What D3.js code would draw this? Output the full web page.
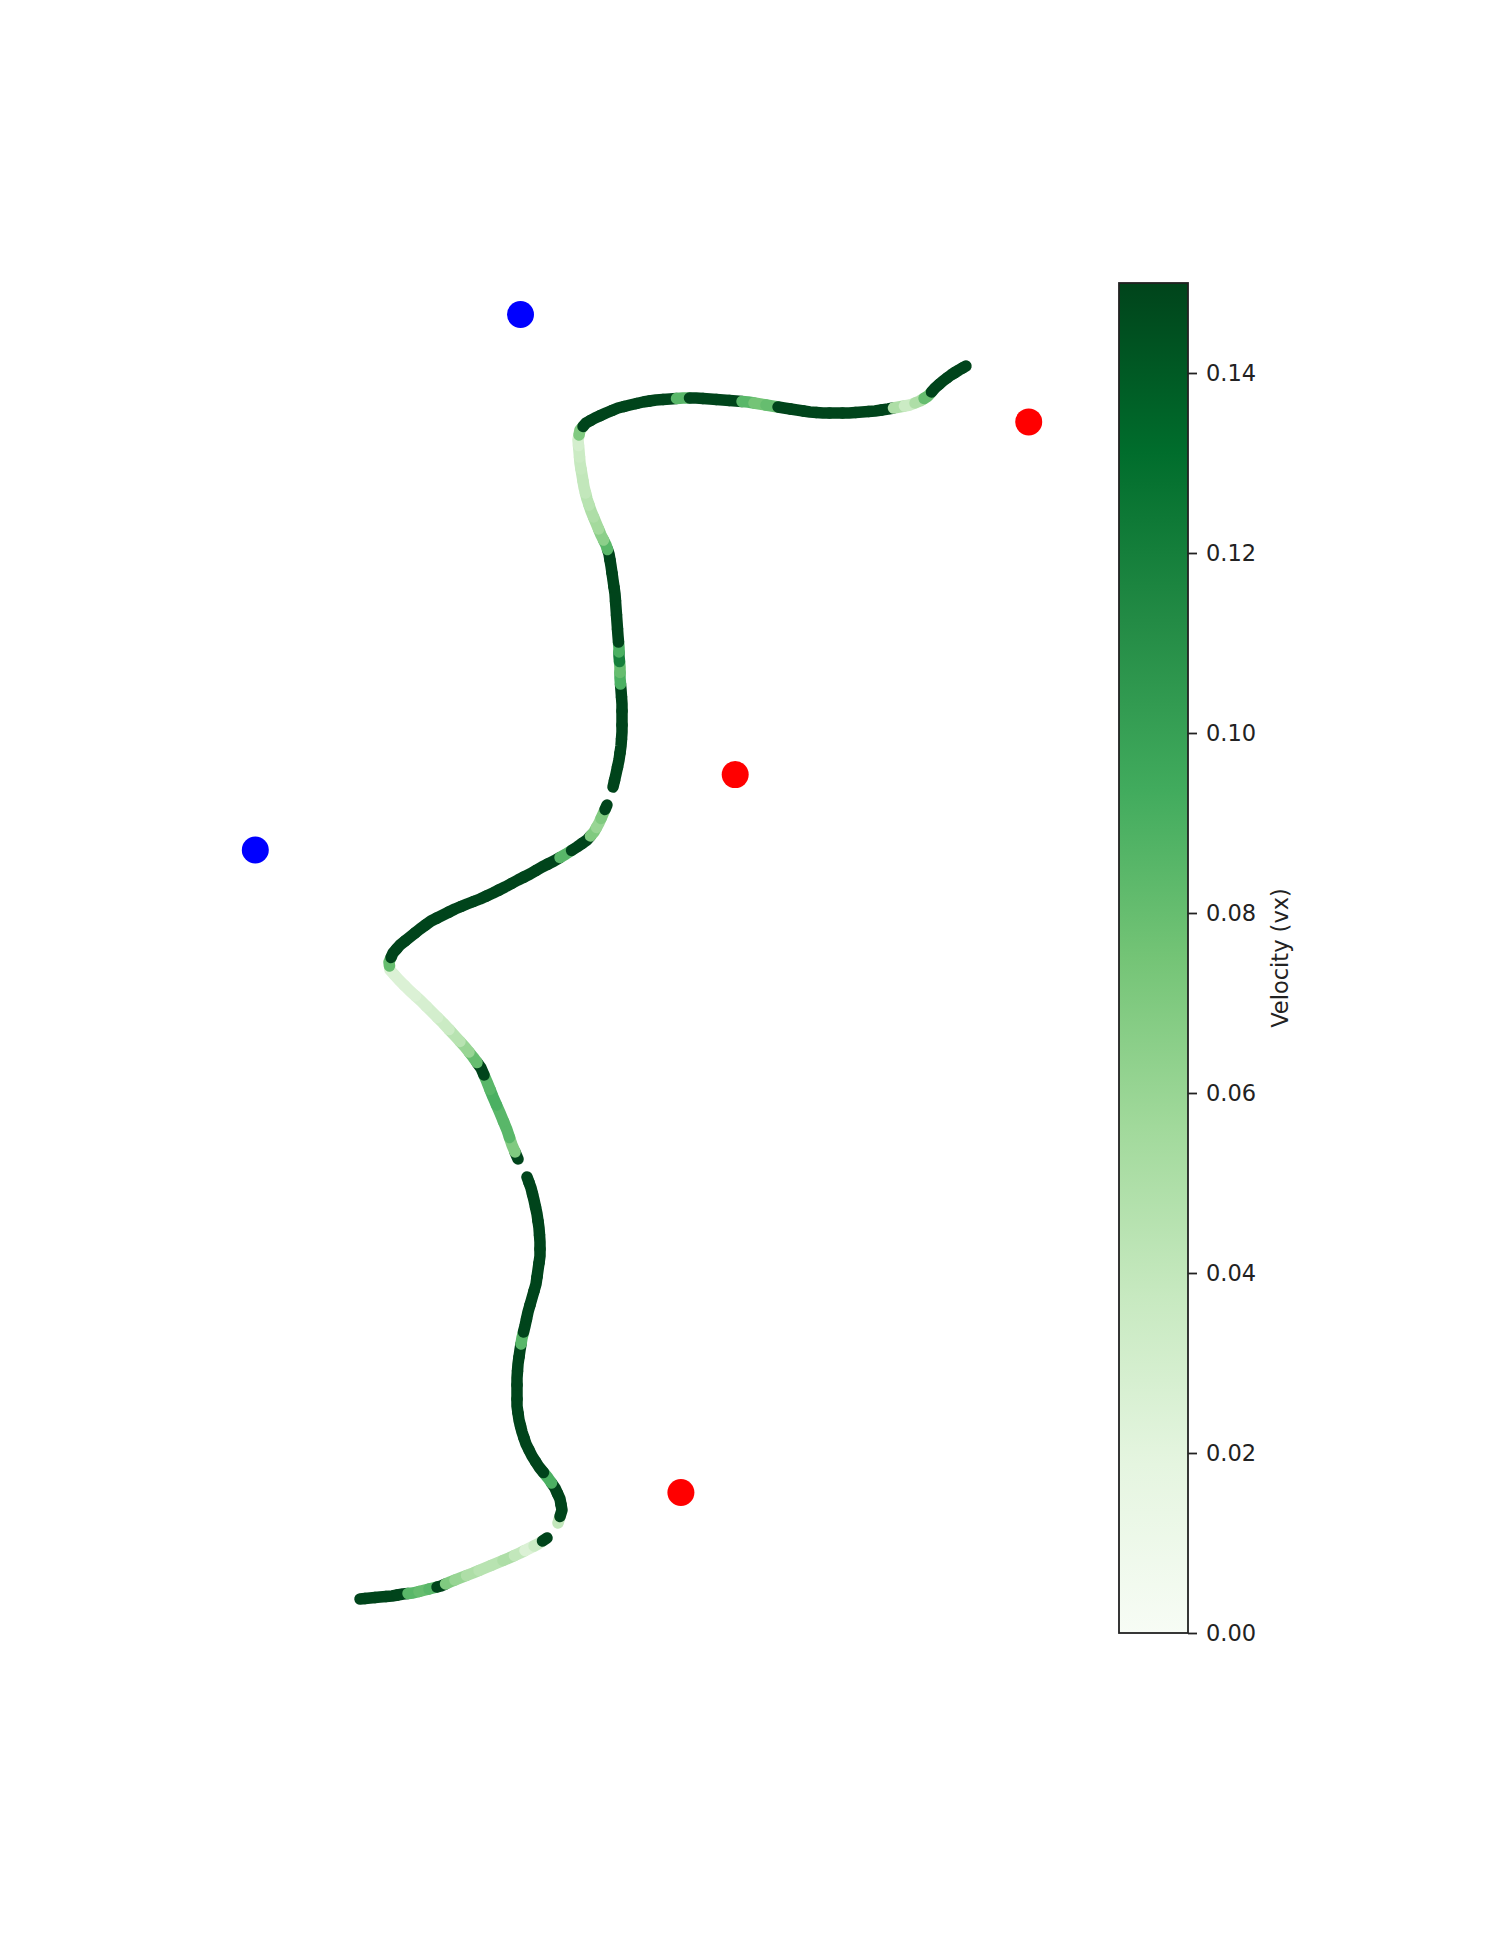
<!DOCTYPE html>
<head>
  <meta charset="utf-8">
  <title>Trajectory</title>
  <script src="https://d3js.org/d3.v7.min.js"></script>
  <style>
    body { margin: 0; background: #fff; }
    text { font-family: "DejaVu Sans", sans-serif; fill: #222; }
  </style>
</head>

<body>
  <script>
    // trajectory pieces: [x, y, vx]  (gaps in the sampling split the path)
    var piece1 = [
      [1.60, 0.51, .15], [1.70, 0.52, .15], [1.80, 0.53, .15], [1.92, 0.54, .15], [2.03, 0.56, .15],
      [2.13, 0.57, .085], [2.25, 0.60, .08], [2.33, 0.62, .085], [2.41, 0.64, .15], [2.50, 0.68, .07],
      [2.60, 0.72, .06], [2.73, 0.77, .05], [2.85, 0.82, .045], [2.97, 0.87, .045], [3.09, 0.92, .05],
      [3.20, 0.97, .04], [3.30, 1.02, .025], [3.38, 1.06, .035], [3.47, 1.12, .15]
    ];
    var piece2 = [
      [3.58, 1.27, .04], [3.62, 1.40, .15], [3.60, 1.51, .15], [3.55, 1.62, .15], [3.48, 1.72, .09],
      [3.39, 1.83, .15], [3.32, 1.94, .15], [3.26, 2.06, .15], [3.22, 2.18, .15], [3.19, 2.30, .15],
      [3.17, 2.44, .15], [3.17, 2.58, .15], [3.17, 2.72, .15], [3.18, 2.86, .15], [3.20, 3.00, .15],
      [3.22, 3.12, .085], [3.25, 3.24, .15], [3.28, 3.38, .15], [3.32, 3.52, .15], [3.36, 3.66, .15],
      [3.38, 3.80, .15], [3.40, 3.94, .15], [3.40, 4.08, .15], [3.39, 4.22, .15], [3.37, 4.36, .15],
      [3.34, 4.50, .15], [3.31, 4.62, .15], [3.27, 4.73, .15]
    ];
    var piece3 = [
      [3.18, 4.91, .15], [3.12, 5.05, .07], [3.07, 5.20, .085], [3.00, 5.37, .085], [2.93, 5.53, .09],
      [2.87, 5.68, .085], [2.81, 5.82, .15], [2.73, 5.93, .08], [2.65, 6.03, .06], [2.55, 6.14, .045],
      [2.43, 6.27, .035], [2.32, 6.38, .03], [2.21, 6.49, .028], [2.10, 6.59, .025], [1.99, 6.70, .025],
      [1.90, 6.80, .025], [1.89, 6.88, .08], [1.93, 6.97, .15], [2.00, 7.05, .15], [2.10, 7.13, .15],
      [2.20, 7.21, .15], [2.31, 7.29, .15], [2.43, 7.35, .15], [2.55, 7.41, .15], [2.67, 7.46, .15],
      [2.80, 7.51, .15], [2.93, 7.57, .15], [3.05, 7.63, .15], [3.18, 7.70, .15], [3.30, 7.76, .15],
      [3.42, 7.83, .15], [3.54, 7.89, .15], [3.66, 7.96, .085], [3.77, 8.03, .15], [3.87, 8.10, .15],
      [3.94, 8.18, .07], [3.99, 8.27, .06], [4.03, 8.36, .07], [4.07, 8.45, .15]
    ];
    var piece4 = [
      [4.13, 8.63, .15], [4.16, 8.76, .15], [4.19, 8.90, .15], [4.21, 9.04, .15], [4.22, 9.18, .15],
      [4.22, 9.32, .15], [4.22, 9.46, .15], [4.21, 9.60, .15], [4.20, 9.72, .09], [4.20, 9.83, .08],
      [4.19, 9.94, .12], [4.19, 10.02, .09], [4.18, 10.14, .15], [4.17, 10.28, .15], [4.16, 10.42, .15],
      [4.15, 10.56, .15], [4.13, 10.70, .15], [4.11, 10.84, .15], [4.09, 10.96, .15], [4.06, 11.05, .085],
      [4.01, 11.15, .065], [3.96, 11.27, .055], [3.91, 11.39, .05], [3.87, 11.51, .045], [3.84, 11.63, .04],
      [3.82, 11.75, .04], [3.80, 11.87, .038], [3.79, 11.99, .035], [3.78, 12.10, .03], [3.80, 12.20, .07],
      [3.86, 12.27, .15], [3.95, 12.32, .15], [4.06, 12.37, .15], [4.18, 12.42, .15], [4.30, 12.45, .15],
      [4.43, 12.48, .15], [4.56, 12.50, .15], [4.70, 12.51, .15], [4.83, 12.52, .085], [4.96, 12.52, .15],
      [5.10, 12.51, .15], [5.23, 12.50, .15], [5.36, 12.49, .15], [5.48, 12.48, .085], [5.60, 12.46, .075],
      [5.72, 12.44, .08], [5.84, 12.42, .15], [5.97, 12.40, .15], [6.10, 12.38, .15], [6.23, 12.37, .15],
      [6.36, 12.37, .15], [6.49, 12.37, .15], [6.62, 12.38, .15], [6.75, 12.39, .15], [6.88, 12.41, .15],
      [6.99, 12.43, .05], [7.10, 12.45, .035], [7.20, 12.49, .05], [7.28, 12.54, .08], [7.35, 12.62, .15],
      [7.43, 12.69, .15], [7.51, 12.75, .15], [7.59, 12.80, .15], [7.66, 12.84, .15]
    ];
    var pieces = [piece1, piece2, piece3, piece4];

    // fixed charges
    var blueCharges = [[3.205, 13.355], [0.553, 8.0]];
    var redCharges = [[8.287, 12.281], [5.352, 8.754], [4.809, 1.575]];

    var cbTicks = [0, 0.02, 0.04, 0.06, 0.08, 0.10, 0.12, 0.14];
    var greens = ["#f7fcf5", "#e5f5e0", "#c7e9c0", "#a1d99b", "#74c476",
                  "#41ab5d", "#238b45", "#006d2c", "#00441b"];

    var width = 1495,
        height = 1934,
        vmax = 0.15,
        svg = d3.select("body").append("svg")
          .attr("width", width)
          .attr("height", height);

    var x = d3.scaleLinear().domain([0, 10]).range([200, 1200]),
        y = d3.scaleLinear().domain([0, 14]).range([1650, 250]);

    var color = d3.scaleLinear()
      .domain(greens.map(function (d, i) { return i / (greens.length - 1) * vmax; }))
      .range(greens)
      .interpolate(d3.interpolateRgb)
      .clamp(true);

    // trajectory: each sample owns the half segments on each side of it
    var g = svg.append("g");
    pieces.forEach(function (pts) {
      pts.forEach(function (p, i) {
        var px = x(p[0]), py = y(p[1]);
        var a = i > 0 ? [(x(pts[i - 1][0]) + px) / 2, (y(pts[i - 1][1]) + py) / 2] : [px, py];
        var b = i < pts.length - 1 ? [(x(pts[i + 1][0]) + px) / 2, (y(pts[i + 1][1]) + py) / 2] : [px, py];
        g.append("path")
          .attr("d", "M" + a + "L" + [px, py] + "L" + b)
          .attr("fill", "none")
          .attr("stroke", color(p[2]))
          .attr("stroke-width", 11.5)
          .attr("stroke-linecap", "round")
          .attr("stroke-linejoin", "round");
      });
    });

    svg.selectAll(".blue")
      .data(blueCharges)
      .enter().append("circle")
        .attr("cx", function (d) { return x(d[0]); })
        .attr("cy", function (d) { return y(d[1]); })
        .attr("r", 13.5)
        .attr("fill", "#0000ff");

    svg.selectAll(".red")
      .data(redCharges)
      .enter().append("circle")
        .attr("cx", function (d) { return x(d[0]); })
        .attr("cy", function (d) { return y(d[1]); })
        .attr("r", 13.5)
        .attr("fill", "#ff0000");

    // colorbar
    var cbX = 1119, cbW = 69,
        cy = d3.scaleLinear().domain([0, vmax]).range([1633, 283]);

    var grad = svg.append("defs").append("linearGradient")
      .attr("id", "cbgrad")
      .attr("x1", 0).attr("y1", 1).attr("x2", 0).attr("y2", 0);
    greens.forEach(function (c, i) {
      grad.append("stop")
        .attr("offset", i / (greens.length - 1))
        .attr("stop-color", c);
    });

    svg.append("rect")
      .attr("x", cbX)
      .attr("y", cy(vmax))
      .attr("width", cbW)
      .attr("height", cy(0) - cy(vmax))
      .attr("fill", "url(#cbgrad)")
      .attr("stroke", "#222")
      .attr("stroke-width", 1.8);

    var axis = svg.append("g")
      .attr("transform", "translate(" + (cbX + cbW) + ",0)")
      .call(d3.axisRight(cy)
        .tickValues(cbTicks)
        .tickFormat(d3.format(".2f"))
        .tickSize(9)
        .tickPadding(9));
    axis.select(".domain").remove();
    axis.selectAll(".tick line").attr("stroke", "#222").attr("stroke-width", 1.8);
    axis.selectAll(".tick text")
      .attr("font-size", "22.5px")
      .attr("font-family", "DejaVu Sans, sans-serif")
      .attr("fill", "#222");

    svg.append("text")
      .attr("transform", "translate(1280," + cy(vmax / 2) + ") rotate(-90)")
      .attr("text-anchor", "middle")
      .attr("dominant-baseline", "central")
      .attr("font-size", "22.5px")
      .text("Velocity (vx)");
  </script>
</body>
